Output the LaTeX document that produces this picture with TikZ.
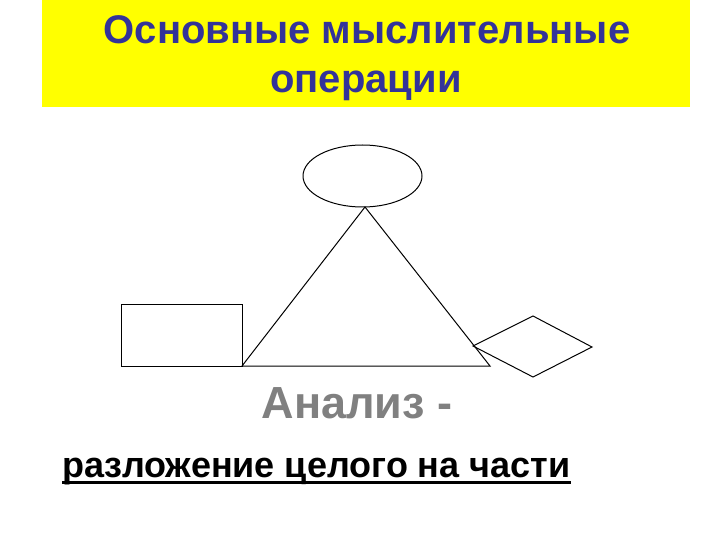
\documentclass[tikz,border=0pt]{standalone}
\usepackage{fontspec}
\setmainfont{Liberation Sans}
\usepackage{tikz}
\usetikzlibrary{positioning}
\definecolor{titleyellow}{RGB}{255,255,0}
\definecolor{titleblue}{RGB}{51,51,153}
\definecolor{analysisgray}{RGB}{128,128,128}
\tikzset{
  shape line/.style={draw=black, line width=1pt},
  plain text/.style={inner sep=0pt, font=\bfseries}
}

\begin{document}
\begin{tikzpicture}[x=1pt,y=-1pt]
          \useasboundingbox (0,0) rectangle (720,540);
          % title
          \fill[titleyellow] (42,0) rectangle (690,107);
          \node[plain text, text=titleblue, font=\fontsize{40}{50}\selectfont\bfseries, anchor=base] (title1) at (367,44) {Основные мыслительные};
          \node[plain text, text=titleblue, font=\fontsize{40}{50}\selectfont\bfseries, anchor=base] (title2) at (366,93) {операции};
          % ellipse
          \draw[shape line] (362.5,176) ellipse [x radius=59.5, y radius=31];
          % triangle
          \coordinate (apex) at (365,207);
          \coordinate (left) at (242,366);
          \coordinate (right) at (490,366);
          \draw[shape line] (apex) -- (right) -- (left) -- cycle;
          % rectangle
          \draw[shape line] (121,304) rectangle (left);
          % diamond
          \draw[shape line] (473,346) -- (533,316) -- (592,347) -- (533,377) -- cycle;
          % text
          \node[plain text, text=analysisgray, font=\fontsize{45}{50}\selectfont\bfseries, anchor=base] (analysis) at (357,418) {Анализ -};
          \node[plain text, font=\fontsize{36}{40}\selectfont\bfseries, anchor=base west] (meaning) at (62,477) {разложение целого на части};
          \draw[line width=3pt] ([yshift=-5pt]meaning.base west) -- ([yshift=-5pt]meaning.base east);
        \end{tikzpicture}
\end{document}
